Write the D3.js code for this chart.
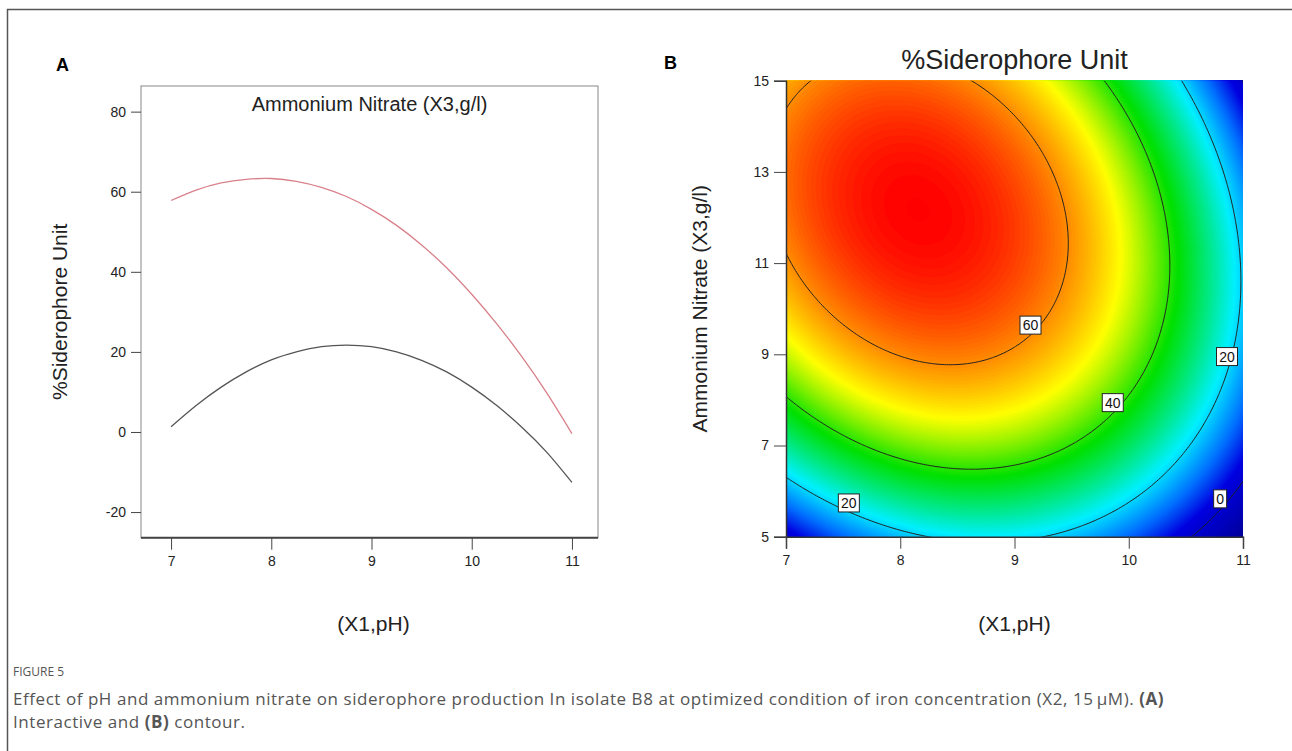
<!DOCTYPE html>
<html>
<head>
<meta charset="utf-8">
<script src="https://cdn.jsdelivr.net/npm/d3@7"></script>
<style>
    body { margin: 0; background: #fff; }
    svg text { font-family: "Liberation Sans", Arial, sans-serif; }
    .caption { font-family: "Open Sans", "Noto Sans", sans-serif; fill: #555; }
</style>
</head>
<body>
<svg id="fig" width="1292" height="751"></svg>
<script>
// ---- panel A : one-factor slices (pH) ----
var phValues = [7, 7.25, 7.5, 7.75, 8, 8.25, 8.5, 8.75, 9, 9.25, 9.5, 9.75, 10, 10.25, 10.5, 10.75, 11];
// ammonium nitrate low (5 g/l) - black curve
var lowNitrate = [1.3, 6.6, 11.2, 15.0, 18.0, 20.0, 21.3, 21.7, 21.3, 20.0, 17.9, 15.0, 11.2, 6.6, 1.2, -5.1, -12.6];
// ammonium nitrate high (15 g/l) - red curve
var highNitrate = [57.8, 60.4, 62.2, 63.1, 63.3, 62.6, 61.1, 58.8, 55.6, 51.6, 46.7, 41.0, 34.4, 27.0, 18.8, 9.7, -0.4];
var yTicksA = [-20, 0, 20, 40, 60, 80];
var xTicks = [7, 8, 9, 10, 11];

// ---- panel B : contour of the fitted response surface ----
// coded quadratic model estimated from the contour positions:
// [b0, A(pH), C(nitrate), A^2, C^2, AC]  with A=(pH-9)/2, C=(X3-10)/5
var surfaceCoef = [63.6, -17.82, 17.1, -26.8, -25.2, -11.12];
var yTicksB = [5, 7, 9, 11, 13, 15];
var contourLevels = [0, 20, 40, 60];
var colorValues = [-12, 4, 12, 22, 38, 51, 71];
var colorHex = ["#00009c", "#0000e0", "#0070ff", "#00f0ff", "#00e000", "#ffff00", "#ff0000"];
var labelSpots = [
    {level: 60, ph: 9.14, nitrate: 9.64},
    {level: 40, ph: 9.86, nitrate: 7.94},
    {level: 20, ph: 10.86, nitrate: 8.95},
    {level: 20, ph: 7.55, nitrate: 5.74},
    {level: 0, ph: 10.8, nitrate: 5.83}
];

var svg = d3.select("#fig");
var plain = function (d) { return String(d); };

// outer frame (top and left only)
svg.append("path").attr("d", "M7.5,751V9.5H1292")
    .attr("fill", "none").attr("stroke", "#555").attr("stroke-width", 1.5);

// ================= panel A =================
var boxA = {l: 141, r: 598, t: 86, b: 537.7};
var xA = d3.scaleLinear().domain([6.70, 11.26]).range([boxA.l, boxA.r]);
var yA = d3.scaleLinear().domain([-26.4, 86.4]).range([boxA.b, boxA.t]);

svg.append("text").attr("x", 56).attr("y", 71).text("A")
    .style("font-weight", "bold").style("font-size", "18px");

svg.append("rect").attr("x", boxA.l).attr("y", boxA.t)
    .attr("width", boxA.r - boxA.l).attr("height", boxA.b - boxA.t)
    .attr("fill", "none").attr("stroke", "#888").attr("stroke-width", 1);
svg.append("line").attr("x1", boxA.l).attr("x2", boxA.r).attr("y1", boxA.b).attr("y2", boxA.b)
    .attr("stroke", "#444").attr("stroke-width", 2);

var gyA = svg.append("g").attr("transform", "translate(" + boxA.l + ",0)")
    .call(d3.axisLeft(yA).tickValues(yTicksA).tickFormat(plain).tickSize(10).tickPadding(5));
var gxA = svg.append("g").attr("transform", "translate(0," + boxA.b + ")")
    .call(d3.axisBottom(xA).tickValues(xTicks).tickFormat(plain).tickSize(12).tickPadding(6));
[gyA, gxA].forEach(function (g) {
    g.select(".domain").remove();
    g.selectAll("line").attr("stroke", "#444");
    g.selectAll("text").style("font-size", "14px").attr("fill", "#222");
});

var lineA = d3.line()
    .x(function (d) { return xA(d[0]); })
    .y(function (d) { return yA(d[1]); })
    .curve(d3.curveNatural);

svg.append("path").datum(d3.zip(phValues, highNitrate)).attr("d", lineA)
    .attr("fill", "none").attr("stroke", "#d9808a").attr("stroke-width", 1.3);
svg.append("path").datum(d3.zip(phValues, lowNitrate)).attr("d", lineA)
    .attr("fill", "none").attr("stroke", "#555").attr("stroke-width", 1.3);

svg.append("text").attr("x", (boxA.l + boxA.r) / 2).attr("y", 111)
    .attr("text-anchor", "middle").style("font-size", "20px").attr("fill", "#222")
    .text("Ammonium Nitrate (X3,g/l)");
svg.append("text").attr("x", (boxA.l + boxA.r) / 2 + 4).attr("y", 631)
    .attr("text-anchor", "middle").style("font-size", "21px").attr("fill", "#222")
    .text("(X1,pH)");
svg.append("text")
    .attr("transform", "translate(67," + (boxA.t + boxA.b) / 2 + ") rotate(-90)")
    .attr("text-anchor", "middle").style("font-size", "21px").attr("fill", "#222")
    .text("%Siderophore Unit");

// ================= panel B =================
var boxB = {l: 786, r: 1243, t: 80.7, b: 536.7};
var xB = d3.scaleLinear().domain([7, 11]).range([boxB.l, boxB.r]);
var yB = d3.scaleLinear().domain([5, 15]).range([boxB.b, boxB.t]);
var color = d3.scaleLinear().domain(colorValues).range(colorHex).clamp(true);

function surface(ph, nitrate) {
    var a = (ph - 9) / 2, c = (nitrate - 10) / 5, k = surfaceCoef;
    return k[0] + k[1] * a + k[2] * c + k[3] * a * a + k[4] * c * c + k[5] * a * c;
}

// sample grid a little wider than the box, then clip
var nx = 230, ny = 230, gx0 = 6.9, gx1 = 11.1, gy0 = 4.8, gy1 = 15.2;
var dx = (gx1 - gx0) / (nx - 1), dy = (gy1 - gy0) / (ny - 1);
var grid = new Array(nx * ny);
for (var j = 0; j < ny; j++) {
    for (var i = 0; i < nx; i++) {
        grid[j * nx + i] = surface(gx0 + i * dx, gy0 + j * dy);
    }
}
var proj = d3.geoPath(d3.geoTransform({
    point: function (px, py) {
        this.stream.point(xB(gx0 + (px - 0.5) * dx), yB(gy0 + (py - 0.5) * dy));
    }
}));

svg.append("defs").append("clipPath").attr("id", "clipB")
    .append("rect").attr("x", boxB.l).attr("y", boxB.t)
    .attr("width", boxB.r - boxB.l).attr("height", boxB.b - boxB.t);

var plotB = svg.append("g").attr("clip-path", "url(#clipB)");
var bands = d3.range(-16, 74, 0.5);
plotB.selectAll("path.band")
    .data(d3.contours().size([nx, ny]).thresholds(bands)(grid))
    .enter().append("path")
    .attr("class", "band")
    .attr("d", proj)
    .attr("fill", function (d) { return color(d.value + 0.25); })
    .attr("stroke", function (d) { return color(d.value + 0.25); })
    .attr("stroke-width", 0.6);

plotB.selectAll("path.iso")
    .data(d3.contours().size([nx, ny]).thresholds(contourLevels)(grid))
    .enter().append("path")
    .attr("class", "iso")
    .attr("d", proj)
    .attr("fill", "none").attr("stroke", "#222").attr("stroke-width", 1);

var lab = svg.selectAll("g.clab").data(labelSpots).enter().append("g")
    .attr("class", "clab")
    .attr("transform", function (d) { return "translate(" + xB(d.ph) + "," + yB(d.nitrate) + ")"; });
lab.append("rect")
    .attr("x", function (d) { return d.level === 0 ? -6.5 : -10.5; })
    .attr("width", function (d) { return d.level === 0 ? 13 : 21; })
    .attr("y", -9).attr("height", 18)
    .attr("fill", "#fff").attr("stroke", "#222").attr("stroke-width", 1);
lab.append("text").attr("text-anchor", "middle").attr("dy", "0.36em")
    .style("font-size", "14px").attr("fill", "#111")
    .text(function (d) { return d.level; });

var gyB = svg.append("g").attr("transform", "translate(" + boxB.l + ",0)")
    .call(d3.axisLeft(yB).tickValues(yTicksB).tickFormat(plain).tickSize(12).tickPadding(5));
var gxB = svg.append("g").attr("transform", "translate(0," + boxB.b + ")")
    .call(d3.axisBottom(xB).tickValues(xTicks).tickFormat(plain).tickSize(12).tickPadding(6));
[gyB, gxB].forEach(function (g) {
    g.select(".domain").attr("stroke", "#333").attr("stroke-width", 1.5);
    g.selectAll("line").attr("stroke", "#444");
    g.selectAll("text").style("font-size", "14px").attr("fill", "#222");
});

svg.append("text").attr("x", (boxB.l + boxB.r) / 2).attr("y", 69)
    .attr("text-anchor", "middle").style("font-size", "27px").attr("fill", "#222")
    .text("%Siderophore Unit");
svg.append("text").attr("x", (boxB.l + boxB.r) / 2).attr("y", 631)
    .attr("text-anchor", "middle").style("font-size", "21px").attr("fill", "#222")
    .text("(X1,pH)");
svg.append("text")
    .attr("transform", "translate(707," + (boxB.t + boxB.b) / 2 + ") rotate(-90)")
    .attr("text-anchor", "middle").style("font-size", "21px").attr("fill", "#222")
    .text("Ammonium Nitrate (X3,g/l)");
svg.append("text").attr("x", 664).attr("y", 69).text("B")
    .style("font-weight", "bold").style("font-size", "18px");

// ================= caption =================
svg.append("text").attr("class", "caption").attr("x", 13).attr("y", 676)
    .style("font-size", "12px").text("FIGURE 5");
var cap1 = svg.append("text").attr("class", "caption").attr("x", 13).attr("y", 705)
    .style("font-size", "17px").style("letter-spacing", "0.55px");
cap1.append("tspan").text("Effect of pH and ammonium nitrate on siderophore production In isolate B8 at optimized condition of iron concentration (X2, 15\u2009\u00b5M). ");
cap1.append("tspan").style("font-weight", "bold").text("(A)");
var cap2 = svg.append("text").attr("class", "caption").attr("x", 13).attr("y", 728)
    .style("font-size", "17px").style("letter-spacing", "0.55px");
cap2.append("tspan").text("Interactive and ");
cap2.append("tspan").style("font-weight", "bold").text("(B)");
cap2.append("tspan").text(" contour.");
</script>
</body>
</html>
